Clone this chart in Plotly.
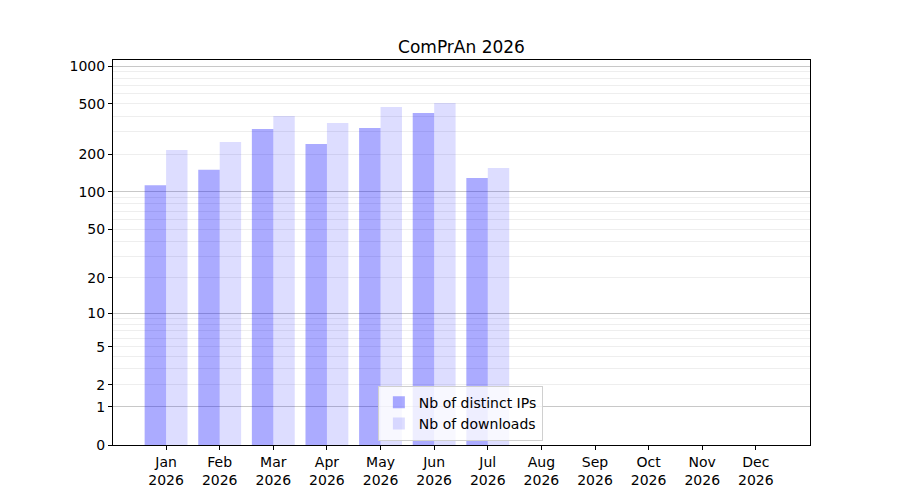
import numpy as np
import plotly.graph_objects as go

# Monthly stats
months = ["Jan", "Feb", "Mar", "Apr", "May", "Jun", "Jul", "Aug", "Sep", "Oct", "Nov", "Dec"]
year = "2026"
distinct_ips = [113, 150, 317, 241, 323, 424, 129]
downloads = [216, 250, 402, 353, 473, 509, 155]

y_labels = [0, 1, 2, 5, 10, 20, 50, 100, 200, 500, 1000]
major_grid = [1, 10, 100, 1000]
minor_grid = [m * 10 ** k for k in range(3) for m in range(2, 10)]


# y axis is log10(1 + x)
def scale(v):
    return np.log10(1 + np.asarray(v, dtype=float))


fig = go.Figure()

fig.add_trace(go.Bar(
    x=list(range(len(distinct_ips))),
    y=scale(distinct_ips),
    width=0.4,
    offset=-0.4,
    name="Nb of distinct IPs",
    marker_color="rgba(0,0,255,0.33)",
    marker_line_width=0,
))
fig.add_trace(go.Bar(
    x=list(range(len(downloads))),
    y=scale(downloads),
    width=0.4,
    offset=0,
    name="Nb of downloads",
    marker_color="rgba(0,0,255,0.135)",
    marker_line_width=0,
))
# empty trace so the grid axis gets drawn
fig.add_trace(go.Scatter(x=[None], y=[None], yaxis="y2", showlegend=False,
                         hoverinfo="skip", mode="lines"))

yrange = [0, 3.048]

fig.update_layout(
    width=900,
    height=500,
    barmode="overlay",
    title=dict(text="ComPrAn 2026", xref="paper", x=0.5, xanchor="center",
               y=1 - 39 / 500, yanchor="middle",
               font=dict(size=17, color="black")),
    font=dict(family="DejaVu Sans", size=14, color="black"),
    paper_bgcolor="white",
    plot_bgcolor="white",
    margin=dict(l=105, r=98, t=52, b=63),
    showlegend=True,
    legend=dict(
        x=0.380, y=0.011, xanchor="left", yanchor="bottom",
        bgcolor="rgba(255,255,255,0.8)",
        bordercolor="#d0d0d0", borderwidth=1,
        font=dict(size=14),
        tracegroupgap=0,
    ),
    xaxis=dict(
        range=[-0.99, 12.01],
        tickmode="array",
        tickvals=list(range(len(months))),
        ticktext=[m + "<br>" + year for m in months],
        ticks="outside", ticklen=4, tickcolor="black",
        showgrid=False, zeroline=False,
        showline=True, linecolor="black", linewidth=1, mirror=True,
    ),
    yaxis=dict(
        range=yrange,
        tickmode="array",
        tickvals=scale(y_labels),
        ticktext=[str(v) for v in y_labels],
        ticks="outside", ticklen=4, tickcolor="black",
        showgrid=False, zeroline=False,
        showline=True, linecolor="black", linewidth=1, mirror=True,
        minor=dict(tickmode="array", tickvals=scale(minor_grid), showgrid=True,
                   gridcolor="#eeeeee", gridwidth=1, ticks=""),
    ),
    yaxis2=dict(
        range=yrange,
        overlaying="y",
        anchor="x",
        tickmode="array",
        tickvals=scale(major_grid),
        showticklabels=False,
        ticks="",
        showgrid=True, gridcolor="#c8c8c8", gridwidth=1,
        zeroline=False, showline=False,
    ),
)

fig.write_html("out.html")
